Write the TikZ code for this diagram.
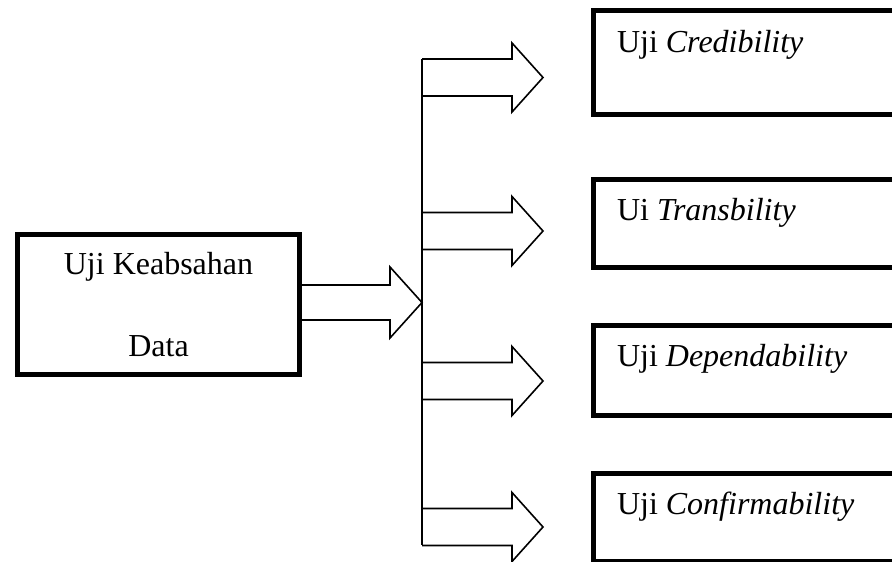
\documentclass[tikz,border=0pt]{standalone}
\usepackage{fontspec}
\setmainfont{Liberation Serif}
\usetikzlibrary{calc}
\begin{document}
\begin{tikzpicture}[x=1pt,y=-1pt,
  thickbox/.style={draw, rectangle, line width=5pt, inner sep=0pt, outer sep=0pt},
  lbl/.style={inner sep=0pt, outer sep=0pt, anchor=base west, font=\fontsize{32}{38}\selectfont},
  blockarrow/.style={draw, line width=1.6pt, line join=miter}]
\useasboundingbox (0,0) rectangle (892,562);
\clip (0,0) rectangle (892,562);
\fill[white] (0,0) rectangle (892,562);
% left box
\node[thickbox, minimum width=282pt, minimum height=140pt, align=center,
      font=\fontsize{32}{82}\selectfont] (lbox) at (158.5,304.5) {Uji Keabsahan\\Data};
% right boxes (run past the right edge)
\node[thickbox, minimum width=356.5pt, minimum height=104pt] (b1) at (771.75,62.5) {};
\node[thickbox, minimum width=356.5pt, minimum height=88pt] (b2) at (771.75,223.5) {};
\node[thickbox, minimum width=356.5pt, minimum height=90pt] (b3) at (771.75,370.5) {};
\node[thickbox, minimum width=356.5pt, minimum height=87.5pt] (b4) at (771.75,517.25) {};
\node[lbl] (t1) at (617,52) {Uji \textit{Credibility}};
\node[lbl] (t2) at (617,220) {Ui \textit{Transbility}};
\node[lbl] (t3) at (617,366) {Uji \textit{Dependability}};
\node[lbl] (t4) at (617,514) {Uji \textit{Confirmability}};
% vertical bar
\coordinate (vtop) at (422,59);
\coordinate (vbot) at (422,545);
\draw[blockarrow] (vtop) -- (vbot);
% left block arrow
\coordinate (la) at (lbox.east |- 0,302.5);
\draw[blockarrow] ($(la)+(0,-17.5)$) -- (390,285) -- (390,267) -- (422,302.5)
  -- (390,338) -- (390,320) -- ($(la)+(0,17.5)$);
% right block arrows
\foreach \c/\n in {77.5/1,231/2,381/3,527/4}{
  \coordinate (a\n) at (vtop |- 0,\c);
  \draw[blockarrow] ($(a\n)+(0,-18.5)$) -- ++(90,0) -- ++(0,-16) -- ($(a\n)+(121,0)$)
    -- ($(a\n)+(90,34.5)$) -- ++(0,-16) -- ($(a\n)+(0,18.5)$);
}
\end{tikzpicture}
\end{document}
